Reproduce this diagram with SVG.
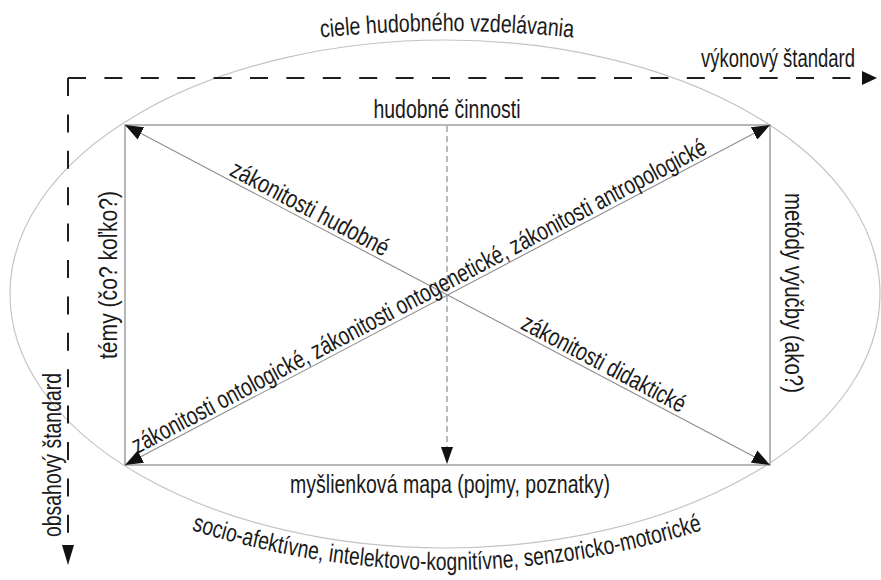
<svg xmlns="http://www.w3.org/2000/svg" width="881" height="580" viewBox="0 0 881 580">
<style>
text{font-family:"Liberation Sans Narrow","Liberation Sans",Arial,sans-serif;font-size:25px;fill:#1a1a1a}
.ell{fill:none;stroke:#c4c4c4;stroke-width:1.2}
.box{fill:none;stroke:#a6a6a6;stroke-width:1.6}
.diag{fill:none;stroke:#8c8c8c;stroke-width:1.1}
.axis{fill:none;stroke:#1e1e1e;stroke-width:2;stroke-dasharray:18 18.4}
.mid{fill:none;stroke:#777;stroke-width:1;stroke-dasharray:6 4}
.hd{fill:#111}
</style>
<defs>
<marker id="ahCorner" viewBox="0 0 18 14" refX="18" refY="7" markerWidth="18" markerHeight="14" markerUnits="userSpaceOnUse" orient="auto-start-reverse"><path class="hd" d="M0,0 L18,7 L0,14 z"/></marker>
<marker id="ahMid" viewBox="0 0 17 12" refX="17" refY="6" markerWidth="17" markerHeight="12" markerUnits="userSpaceOnUse" orient="auto"><path class="hd" d="M0,0 L17,6 L0,12 z"/></marker>
<marker id="ahRight" viewBox="0 0 15 14" refX="0" refY="7" markerWidth="15" markerHeight="14" markerUnits="userSpaceOnUse" orient="auto"><path class="hd" d="M0,0 L15,7 L0,14 z"/></marker>
<marker id="ahDown" viewBox="0 0 20 12" refX="0" refY="6" markerWidth="20" markerHeight="12" markerUnits="userSpaceOnUse" orient="auto"><path class="hd" d="M0,0 L20,6 L0,12 z"/></marker>
<path id="pTop" d="M300,40 Q447,22 594,40"/>
<path id="pBot" d="M185,528 Q447,612 709,528"/>
</defs>

<g id="goals-ellipse">
<ellipse class="ell" cx="445" cy="294" rx="435" ry="254"/>
<text text-anchor="middle"><textPath href="#pTop" startOffset="50%" textLength="253" lengthAdjust="spacingAndGlyphs">ciele hudobného vzdelávania</textPath></text>
<text text-anchor="middle"><textPath href="#pBot" startOffset="50%" textLength="519" lengthAdjust="spacingAndGlyphs">socio-afektívne, intelektovo-kognitívne, senzoricko-motorické</textPath></text>
</g>

<g id="frame">
<rect class="box" x="125" y="125" width="645" height="340"/>
</g>
<g id="node-top"><text x="447" y="118" text-anchor="middle" textLength="147" lengthAdjust="spacingAndGlyphs">hudobné činnosti</text></g>
<g id="node-bottom"><text x="450" y="493" text-anchor="middle" textLength="320" lengthAdjust="spacingAndGlyphs">myšlienková mapa (pojmy, poznatky)</text></g>
<g id="node-left"><text transform="translate(117,275) rotate(-90)" text-anchor="middle" textLength="168" lengthAdjust="spacingAndGlyphs">témy (čo? koľko?)</text></g>
<g id="node-right"><text transform="translate(785,293) rotate(90)" text-anchor="middle" textLength="200" lengthAdjust="spacingAndGlyphs">metódy výučby (ako?)</text></g>

<g id="connectors">
<path class="diag" d="M125,125 L770,465" marker-start="url(#ahCorner)" marker-end="url(#ahCorner)"/>
<path class="diag" d="M125,465 L770,125" marker-start="url(#ahCorner)" marker-end="url(#ahCorner)"/>
<path class="mid" d="M447,126 V464" marker-end="url(#ahMid)"/>
<path class="axis" d="M68,78 H862" marker-end="url(#ahRight)"/>
<path class="axis" d="M68,78 V545" marker-end="url(#ahDown)"/>
</g>

<g id="connector-labels">
<text transform="translate(306,215.8) rotate(27.8)" text-anchor="middle" textLength="176" lengthAdjust="spacingAndGlyphs">zákonitosti hudobné</text>
<text transform="translate(600,370.8) rotate(27.8)" text-anchor="middle" textLength="182" lengthAdjust="spacingAndGlyphs">zákonitosti didaktické</text>
<text transform="translate(423,303.4) rotate(-27.8)" text-anchor="middle" textLength="646" lengthAdjust="spacingAndGlyphs">zákonitosti ontologické, zákonitosti ontogenetické, zákonitosti antropologické</text>
<text x="778" y="67" text-anchor="middle" textLength="154" lengthAdjust="spacingAndGlyphs">výkonový štandard</text>
<text transform="translate(61,455) rotate(-90)" text-anchor="middle" textLength="164" lengthAdjust="spacingAndGlyphs">obsahový štandard</text>
</g>
</svg>
